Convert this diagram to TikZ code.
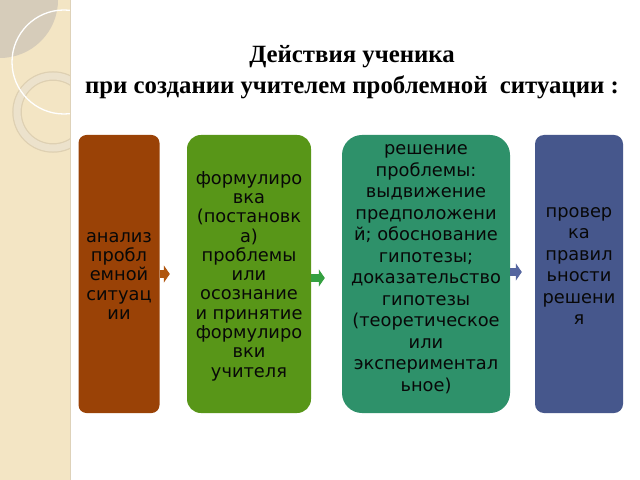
\documentclass[tikz,border=0pt]{standalone}
\usepackage{fontspec}
\setmainfont{Liberation Serif}
\newfontfamily\boxfont{DejaVu Sans}
\usetikzlibrary{arrows.meta}
\definecolor{stripcol}{RGB}{243,229,196}
\definecolor{greycol}{RGB}{214,204,186}
\definecolor{ringcol}{RGB}{236,226,204}
\definecolor{ringedge}{RGB}{222,208,178}
\definecolor{edgecol}{RGB}{222,210,185}
\definecolor{cA}{RGB}{154,66,6}
\definecolor{cB}{RGB}{88,150,24}
\definecolor{cC}{RGB}{46,145,106}
\definecolor{cD}{RGB}{70,87,140}
\definecolor{aA}{RGB}{176,86,15}
\definecolor{aB}{RGB}{52,160,64}
\definecolor{aC}{RGB}{85,102,160}
\definecolor{txt}{RGB}{8,8,8}
\begin{document}
\begin{tikzpicture}[x=1bp,y=-1bp,
  boxshape/.style={draw=none, minimum height=278bp, inner sep=0pt},
  boxtext/.style={align=center, text=txt, inner sep=0pt},
  smallsp/.style={font=\boxfont\fontsize{17.8bp}{19.3bp}\selectfont},
  largesp/.style={font=\boxfont\fontsize{17.8bp}{21.5bp}\selectfont},
  blockarrow/.style={line width=8bp, -{Triangle[length=6bp,width=17bp]}},
  titletext/.style={align=center, font=\fontsize{24.8bp}{30.5bp}\selectfont\bfseries, inner sep=0pt}
]
\useasboundingbox (0,0) rectangle (640,480);
\fill[white] (0,0) rectangle (640,480);
% left decorative strip
\fill[stripcol] (0,0) rectangle (70,480);
\begin{scope}
  \clip (0,0) rectangle (70,480);
  \fill[greycol] (0,0) circle (58);
  \draw[ringedge, line width=9.5bp] (53,112) circle (36);
  \draw[ringcol, line width=7bp] (53,112) circle (36);
  \draw[white, line width=1.3bp] (64,62) circle (52);
\end{scope}
\draw[edgecol, line width=1bp] (70,0) -- (70,480);

% title
\node[titletext] (title) at (352,72) {Действия ученика\\при создании учителем проблемной~~ситуации :};

% boxes
\node[boxshape, fill=cA, minimum width=81bp, rounded corners=8bp] (b1) at (119,274) {};
\node[boxshape, fill=cB, minimum width=124bp, rounded corners=14bp] (b2) at (249,274) {};
\node[boxshape, fill=cC, minimum width=168bp, rounded corners=20bp] (b3) at (426,274) {};
\node[boxshape, fill=cD, minimum width=88bp, rounded corners=9bp] (b4) at (579,274) {};

% texts
\node[boxtext, smallsp] (t1) at (119,276) {анализ\\пробл\\емной\\ситуац\\ии};
\node[boxtext, smallsp] (t2) at (249,276) {формулиро\\вка\\(постановк\\а)\\проблемы\\или\\осознание\\и принятие\\формулиро\\вки\\учителя};
\node[boxtext, largesp] (t3) at (426,269) {решение\\проблемы:\\выдвижение\\предположени\\й; обоснование\\гипотезы;\\доказательство\\гипотезы\\(теоретическое\\или\\экспериментал\\ьное)};
\node[boxtext, largesp] (t4) at (579,266) {провер\\ка\\правил\\ьности\\решени\\я};

% arrows
\draw[blockarrow, aA, shorten >=17bp] (b1.east) -- (b2.west);
\draw[blockarrow, aB, shorten >=17bp] ([yshift=-4bp]b2.east) -- ([yshift=-4bp]b3.west);
\draw[blockarrow, aC, shorten >=13bp] ([yshift=2bp]b3.east) -- ([yshift=2bp]b4.west);
\end{tikzpicture}
\end{document}
